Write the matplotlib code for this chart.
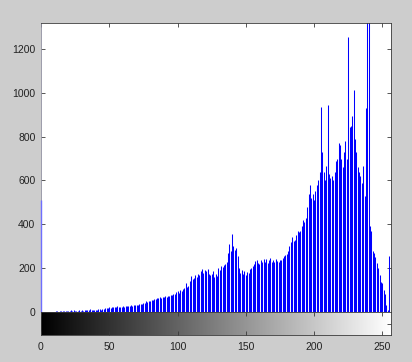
import matplotlib
matplotlib.use("Agg")
import matplotlib.pyplot as plt
import numpy as np

# gray level histogram, bins 0..255
counts = [
    510, 0, 0, 0, 0, 0, 0, 0, 0, 0,
    0, 3, 4, 2, 5, 3, 6, 4, 5, 3,
    6, 4, 7, 5, 8, 3, 6, 5, 7, 6,
    8, 6, 9, 7, 10, 8, 12, 9, 11, 8,
    10, 9, 12, 14, 11, 15, 13, 18, 16, 20,
    22, 18, 24, 21, 25, 22, 26, 23, 25, 24,
    27, 25, 28, 26, 29, 27, 31, 28, 32, 30,
    33, 31, 35, 38, 36, 42, 40, 48, 45, 52,
    50, 56, 54, 60, 58, 65, 62, 68, 66, 70,
    68, 72, 70, 75, 73, 78, 76, 84, 82, 90,
    95, 88, 100, 98, 104, 110, 130, 115, 120, 140,
    165, 150, 155, 170, 160, 175, 168, 185, 195, 180,
    192, 185, 195, 175, 168, 172, 185, 160, 175, 165,
    200, 190, 210, 205, 215, 220, 228, 270, 310, 280,
    355, 300, 285, 290, 255, 200, 180, 190, 175, 185,
    170, 182, 178, 195, 200, 210, 220, 232, 235, 225,
    220, 235, 230, 240, 228, 242, 225, 238, 245, 230,
    235, 228, 240, 232, 230, 238, 236, 245, 255, 258,
    265, 280, 300, 320, 340, 325, 330, 350, 370, 365,
    370, 390, 420, 410, 430, 480, 540, 580, 520, 540,
    510, 550, 580, 600, 640, 935, 730, 640, 600, 665,
    945, 630, 610, 620, 600, 640, 690, 700, 770, 760,
    700, 660, 730, 780, 700, 1255, 845, 850, 895, 1012,
    790, 728, 660, 640, 620, 590, 665, 527, 930, 1500,
    1400, 390, 370, 280, 270, 250, 222, 200, 170, 135,
    130, 100, 80, 30, 10, 256,
]
levels = np.arange(len(counts))

x_ticks = [0, 50, 100, 150, 200, 250]
y_ticks = [0, 200, 400, 600, 800, 1000, 1200]

bg = "#cdcdcd"
edge = "#3a3a3a"
txt = "#222222"

fig = plt.figure(figsize=(4.12, 3.62), dpi=100, facecolor=bg)
plt.rcParams["font.family"] = ["Liberation Sans", "DejaVu Sans"]

left, width = 41 / 412, 349.5 / 412
ax = fig.add_axes([left, 1 - 312 / 362, width, (312 - 23) / 362])
cb = fig.add_axes([left, 1 - 335 / 362, width, 23 / 362])

# histogram stems (bin 0 sits on the axis line, keep it unclipped)
ax.vlines(levels[1:], 0, counts[1:], color="#0000ff", lw=0.75)
ax.vlines(levels[:1], 0, counts[:1], color="#6f6fff", lw=1.0,
          clip_on=False, zorder=3)
ax.set_xlim(0, 256)
ax.set_ylim(0, 1318)
ax.set_yticks(y_ticks)
ax.set_xticks(x_ticks)
ax.tick_params(direction="in", length=3, width=0.6, color=edge,
               top=True, right=True, labelbottom=False,
               labelsize=7.5, labelcolor=txt, pad=4)
for s in ax.spines.values():
    s.set_color(edge)
    s.set_linewidth(0.6)
ax.spines["left"].set_color("#8c8c9c")

# gray level bar
grad = np.linspace(0, 1, 256)[None, :]
cb.imshow(grad, cmap="gray", aspect="auto", extent=(0, 256, 0, 1))
cb.set_xlim(0, 256)
cb.set_ylim(0, 1)
cb.set_xticks(x_ticks)
cb.set_yticks([0.5])
cb.tick_params(direction="in", length=3, width=0.6, color=edge,
               top=True, right=True, left=False, labelleft=False,
               labelsize=7.5, labelcolor=txt, pad=5)
for s in cb.spines.values():
    s.set_color(edge)
    s.set_linewidth(0.6)

fig.savefig("out.png", dpi=100, facecolor=bg)
